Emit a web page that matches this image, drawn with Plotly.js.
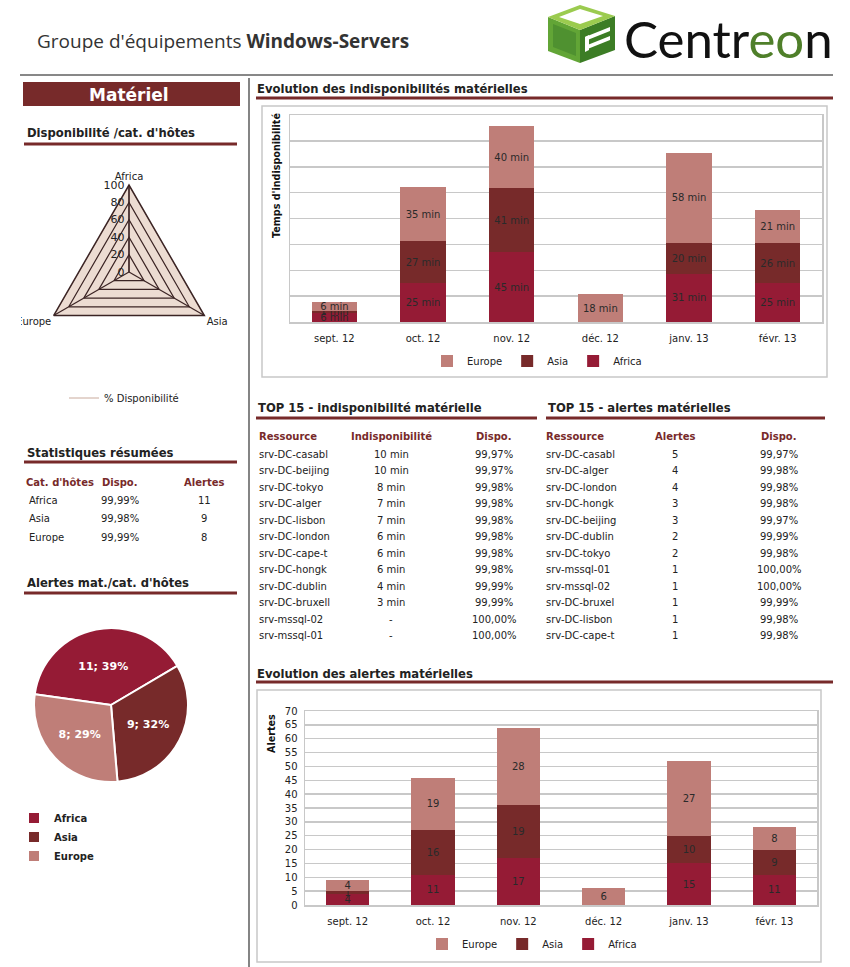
<!DOCTYPE html>
<html><head><meta charset="utf-8">
<script src="https://cdn.plot.ly/plotly-3.0.1.min.js"></script>
<style>html,body{margin:0;padding:0;background:#fff;} #chart{width:850px;height:967px;}</style>
</head><body><div id="chart"></div>
<script>
// ---------- DATA ----------
const months = ['sept. 12','oct. 12','nov. 12','déc. 12','janv. 13','févr. 13'];
const indispoAfrica = [6,25,45,0,31,25];
const indispoAsia   = [1,27,41,0,20,26];
const indispoEurope = [6,35,40,18,58,21];
const alertesAfrica = [4,11,17,0,15,11];
const alertesAsia   = [1,16,19,0,10,9];
const alertesEurope = [4,19,28,6,27,8];
const hostCategories = ['Africa','Asia','Europe'];
const dispoParCategorie = [99.99,99.98,99.99];
const alertesParCategorie = [11,9,8];
const topIndispoRessources = ['srv-DC-casabl','srv-DC-beijing','srv-DC-tokyo','srv-DC-alger','srv-DC-lisbon','srv-DC-london','srv-DC-cape-t','srv-DC-hongk','srv-DC-dublin','srv-DC-bruxell','srv-mssql-02','srv-mssql-01'];
const topIndispoMinutes = [10,10,8,7,7,6,6,6,4,3,0,0];
const topIndispoDispo = [99.97,99.97,99.98,99.98,99.98,99.98,99.98,99.98,99.99,99.99,100,100];
const topAlertesRessources = ['srv-DC-casabl','srv-DC-alger','srv-DC-london','srv-DC-hongk','srv-DC-beijing','srv-DC-dublin','srv-DC-tokyo','srv-mssql-01','srv-mssql-02','srv-DC-bruxel','srv-DC-lisbon','srv-DC-cape-t'];
const topAlertesNombre = [5,4,4,3,3,2,2,1,1,1,1,1];
const topAlertesDispo = [99.97,99.98,99.98,99.98,99.97,99.99,99.98,100,100,99.99,99.98,99.98];

// ---------- STYLE ----------
const W = 850, H = 967;
const X = p => p / W, Y = p => 1 - p / H;
const F = 'DejaVu Sans';
const C_AF = '#951b35', C_AS = '#772a2a', C_EU = '#bf7e78';
const MAROON = '#772a2a';
const GRID = '#c8c8c8';
const pct = v => v.toFixed(2).replace('.', ',') + '%';

function ann(text, x, y, o) {
  return Object.assign({text, x: X(x), y: Y(y), xref:'paper', yref:'paper', showarrow:false,
    xanchor:'left', yanchor:'middle', font:{family:F, size:10, color:'#222'}}, o || {});
}
function line(x0,y0,x1,y1,color,width,layer){
  return {type:'line', xref:'paper', yref:'paper', x0:X(x0), y0:Y(y0), x1:X(x1), y1:Y(y1), line:{color, width}, layer: layer||'above'};
}
function rect(x0,y0,x1,y1,fill,lc,lw,layer){
  return {type:'rect', xref:'paper', yref:'paper', x0:X(x0), y0:Y(y0), x1:X(x1), y1:Y(y1), fillcolor:fill, line:{color:lc||'rgba(0,0,0,0)', width:lw||0}, layer: layer||'above'};
}
function poly(pts, fill){
  const d = 'M' + pts.map(p => X(p[0]).toFixed(5) + ',' + Y(p[1]).toFixed(5)).join(' L') + ' Z';
  return {type:'path', xref:'paper', yref:'paper', path:d, fillcolor:fill, line:{width:0}, layer:'above'};
}

// ---------- TRACES ----------
const barCommon = {type:'bar', textposition:'inside', insidetextanchor:'middle', constraintext:'none', textangle:0,
  insidetextfont:{family:F, size:10, color:'#2a2a2a'}, hoverinfo:'skip'};
const minTxt = a => a.map(v => v ? v + ' min' : '');
const numTxt = a => a.map(v => v ? String(v) : '');

const traces = [
  Object.assign({}, barCommon, {x:months, y:indispoAfrica, name:'Africa', text:minTxt(indispoAfrica), marker:{color:C_AF}, xaxis:'x', yaxis:'y', legend:'legend'}),
  Object.assign({}, barCommon, {x:months, y:indispoAsia, name:'Asia', text:minTxt(indispoAsia), marker:{color:C_AS}, xaxis:'x', yaxis:'y', legend:'legend'}),
  Object.assign({}, barCommon, {x:months, y:indispoEurope, name:'Europe', text:minTxt(indispoEurope), marker:{color:C_EU}, xaxis:'x', yaxis:'y', legend:'legend'}),
  Object.assign({}, barCommon, {x:months, y:alertesAfrica, name:'Africa', text:numTxt(alertesAfrica), marker:{color:C_AF}, xaxis:'x2', yaxis:'y2', legend:'legend2'}),
  Object.assign({}, barCommon, {x:months, y:alertesAsia, name:'Asia', text:numTxt(alertesAsia), marker:{color:C_AS}, xaxis:'x2', yaxis:'y2', legend:'legend2'}),
  Object.assign({}, barCommon, {x:months, y:alertesEurope, name:'Europe', text:numTxt(alertesEurope), marker:{color:C_EU}, xaxis:'x2', yaxis:'y2', legend:'legend2'}),
  {type:'pie', labels:hostCategories, values:alertesParCategorie, sort:false, direction:'clockwise', rotation:-82,
   domain:{x:[X(34), X(188)], y:[Y(782), Y(628)]},
   marker:{colors:[C_AF, C_AS, C_EU], line:{color:'#fff', width:2}},
   texttemplate:'%{value}; %{percent:.0%}', textposition:'inside', insidetextorientation:'horizontal',
   textfont:{family:F, size:11, color:'#fff', weight:'bold'}, hoverinfo:'skip', legend:'legend3'},
  {type:'scatterpolar', r:dispoParCategorie.concat([dispoParCategorie[0]]), theta:hostCategories.concat([hostCategories[0]]),
   mode:'lines', name:'% Disponibilité',
   line:{color:'#c9aa9c', width:1}, hoverinfo:'skip', legend:'legend4', subplot:'polar'}
];

// ---------- SHAPES ----------
const shapes = [
  line(20,75,833,75,'#111',1),
  line(249,78,249,967,'#333',1.2),
  rect(23,82,240,106,MAROON),
  line(24,144,237,144,MAROON,3),
  line(256,98,833,98,MAROON,3),
  line(256,418,537,418,MAROON,3),
  line(546,418,825,418,MAROON,3),
  line(24,462,237,462,MAROON,3),
  line(24,593,237,593,MAROON,3),
  line(256,682,833,682,MAROON,3),
  rect(262,106,827,377,'rgba(0,0,0,0)',GRID,1.5,'below'),
  rect(257,690,821,962,'rgba(0,0,0,0)',GRID,1.5,'below'),
  // clip radar side labels like the reference column
  rect(0,290,21,335,'#fff'),
  rect(233,290,248,335,'#fff'),
  // Centreon cube logo
  poly([[548,17],[580,30],[580,63],[548,51]], '#62a536'),
  poly([[580,30],[615,16],[615,50],[580,63]], '#3c7d25'),
  poly([[548,17],[580,5],[615,16],[580,30]], '#9bcb4f'),
  poly([[559,17],[580,9],[603,16],[580,24]], '#ffffff'),
  poly([[553,24],[576,33],[576,56],[553,47]], '#4f9130'),
  poly([[585,37],[610,27],[610,31],[585,41]], '#ffffff'),
  poly([[585,46],[610,36],[610,40],[585,50]], '#ffffff'),
  poly([[585,37],[589,35],[589,50],[585,52]], '#ffffff')
];

// ---------- ANNOTATIONS ----------
const T = {family:F, size:11.6, color:'#222'};
const annotations = [
  ann("Groupe d'équipements <b>Windows-Servers</b>", 35, 41, {font:{family:'Open Sans', size:19, color:'#333'}}),
  ann('Centr<span style="color:#4f7f2a">eo</span>n', 622, 38, {font:{family:'Lato', size:51, color:'#111'}}),
  ann('<b>Matériel</b>', 129, 95, {xanchor:'center', font:{family:F, size:17, color:'#fff'}}),
  ann("<b>Disponibilité /cat. d'hôtes</b>", 25, 133, {font:T}),
  ann('<b>Evolution des indisponibilités matérielles</b>', 255, 89, {font:T}),
  ann('<b>TOP 15 - indisponibilité matérielle</b>', 256, 408, {font:T}),
  ann('<b>TOP 15 - alertes matérielles</b>', 546, 408, {font:T}),
  ann('<b>Statistiques résumées</b>', 25, 453, {font:T}),
  ann("<b>Alertes mat./cat. d'hôtes</b>", 25, 583, {font:T}),
  ann('<b>Evolution des alertes matérielles</b>', 255, 674, {font:T}),
  ann("<b>Temps d'indisponibilité</b>", 276, 176, {xanchor:'center', textangle:-90, font:{family:F, size:9.6, color:'#111'}}),
  ann('<b>Alertes</b>', 271, 734, {xanchor:'center', textangle:-90, font:{family:F, size:9.6, color:'#111'}})
];
const hdr = {font:{family:F, size:10, color:MAROON}};
// stats table
annotations.push(ann("<b>Cat. d'hôtes</b>", 24, 482, hdr));
annotations.push(ann('<b>Dispo.</b>', 120, 482, Object.assign({xanchor:'center'}, hdr)));
annotations.push(ann('<b>Alertes</b>', 204, 482, Object.assign({xanchor:'center'}, hdr)));
hostCategories.forEach((c,i) => {
  const y = 500 + i*18.5;
  annotations.push(ann(c, 27, y));
  annotations.push(ann(pct(dispoParCategorie[i]), 120, y, {xanchor:'center'}));
  annotations.push(ann(String(alertesParCategorie[i]), 204, y, {xanchor:'center'}));
});
// top 15 indispo
annotations.push(ann('<b>Ressource</b>', 257, 437, hdr));
annotations.push(ann('<b>Indisponibilité</b>', 391, 437, Object.assign({xanchor:'center'}, hdr)));
annotations.push(ann('<b>Dispo.</b>', 494, 437, Object.assign({xanchor:'center'}, hdr)));
topIndispoRessources.forEach((r,i) => {
  const y = 454.5 + i*16.45;
  annotations.push(ann(r, 257, y));
  annotations.push(ann(topIndispoMinutes[i] ? topIndispoMinutes[i] + ' min' : '-', 391, y, {xanchor:'center'}));
  annotations.push(ann(pct(topIndispoDispo[i]), 494, y, {xanchor:'center'}));
});
// top 15 alertes
annotations.push(ann('<b>Ressource</b>', 544, 437, hdr));
annotations.push(ann('<b>Alertes</b>', 675, 437, Object.assign({xanchor:'center'}, hdr)));
annotations.push(ann('<b>Dispo.</b>', 779, 437, Object.assign({xanchor:'center'}, hdr)));
topAlertesRessources.forEach((r,i) => {
  const y = 454.5 + i*16.45;
  annotations.push(ann(r, 544, y));
  annotations.push(ann(String(topAlertesNombre[i]), 675, y, {xanchor:'center'}));
  annotations.push(ann(pct(topAlertesDispo[i]), 779, y, {xanchor:'center'}));
});

// ---------- LAYOUT ----------
const axisCommon = {showline:true, mirror:true, linecolor:GRID, linewidth:1.5, gridcolor:GRID, gridwidth:1.5,
  zeroline:false, tickfont:{family:F, size:10, color:'#222'}, fixedrange:true};
const layout = {
  width:W, height:H, margin:{l:0,r:0,t:0,b:0}, paper_bgcolor:'#fff', plot_bgcolor:'rgba(0,0,0,0)',
  font:{family:F, size:10, color:'#222'},
  barmode:'stack', bargap:0.49, showlegend:true,
  xaxis: Object.assign({}, axisCommon, {domain:[X(290), X(822)], anchor:'y', showgrid:false, ticks:'', ticklabelstandoff:6}),
  yaxis: Object.assign({}, axisCommon, {domain:[Y(322), Y(115)], anchor:'x', range:[0, 133.333], dtick:16.6667, showticklabels:false, ticks:''}),
  xaxis2: Object.assign({}, axisCommon, {domain:[X(305), X(817)], anchor:'y2', showgrid:false, ticks:'', ticklabelstandoff:6}),
  yaxis2: Object.assign({}, axisCommon, {domain:[Y(905), Y(711)], anchor:'x2', range:[0, 70], dtick:5, ticks:'', ticklabelstandoff:4}),
  polar: {
    domain:{x:[X(42), X(216)], y:[Y(359), Y(185)]},
    gridshape:'linear', bgcolor:'#ecdcd2',
    angularaxis:{rotation:90, direction:'clockwise', showline:true, linecolor:'#3b2424', linewidth:1.5,
      gridcolor:'#3b2424', gridwidth:1.2, ticks:'', tickfont:{family:F, size:10, color:'#222'}},
    radialaxis:{range:[0,100], dtick:20, angle:90, tickangle:90, side:'counterclockwise', showline:true, linecolor:'#3b2424', linewidth:1.2,
      gridcolor:'#3b2424', gridwidth:1.2, ticks:'', tickfont:{family:F, size:11, color:'#222'}}
  },
  legend:{orientation:'h', x:X(537), xanchor:'center', y:Y(361), yanchor:'middle', traceorder:'reversed',
    font:{family:F, size:10, color:'#222'}, bgcolor:'rgba(0,0,0,0)'},
  legend2:{orientation:'h', x:X(532), xanchor:'center', y:Y(944), yanchor:'middle', traceorder:'reversed',
    font:{family:F, size:10, color:'#222'}, bgcolor:'rgba(0,0,0,0)'},
  legend3:{orientation:'v', x:X(14), xanchor:'left', y:Y(837), yanchor:'middle',
    font:{family:F, size:10, color:'#222', weight:'bold'}, bgcolor:'rgba(0,0,0,0)'},
  legend4:{orientation:'h', x:X(124), xanchor:'center', y:Y(398), yanchor:'middle',
    font:{family:F, size:10, color:'#222'}, bgcolor:'rgba(0,0,0,0)'},
  shapes, annotations
};

Plotly.newPlot('chart', traces, layout, {staticPlot:true, displayModeBar:false});
</script></body></html>
